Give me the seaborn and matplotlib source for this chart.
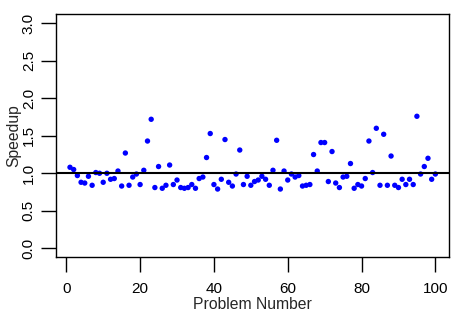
import numpy as np
import pandas as pd
import matplotlib
matplotlib.use("Agg")
import matplotlib.pyplot as plt
import seaborn as sns

# speedup per problem
problem = list(range(1, 101))
speedup = [
    1.08, 1.05, 0.97, 0.88, 0.87, 0.96, 0.84, 1.01, 1.00, 0.88,
    1.00, 0.92, 0.93, 1.03, 0.83, 1.27, 0.84, 0.95, 0.99, 0.85,
    1.04, 1.43, 1.72, 0.81, 1.09, 0.80, 0.84, 1.11, 0.85, 0.91,
    0.81, 0.80, 0.81, 0.85, 0.80, 0.93, 0.95, 1.21, 1.53, 0.85,
    0.79, 0.92, 1.45, 0.88, 0.83, 0.99, 1.31, 0.85, 0.96, 0.84,
    0.89, 0.91, 0.96, 0.92, 0.84, 1.04, 1.44, 0.79, 1.03, 0.91,
    0.99, 0.95, 0.97, 0.83, 0.84, 0.85, 1.25, 1.03, 1.41, 1.41,
    0.89, 1.29, 0.87, 0.81, 0.95, 0.96, 1.13, 0.80, 0.85, 0.83,
    0.93, 1.43, 1.01, 1.60, 0.84, 1.52, 0.84, 1.23, 0.84, 0.81,
    0.92, 0.85, 0.92, 0.85, 1.76, 0.99, 1.09, 1.20, 0.92, 0.99,
]
x_ticks = [0, 20, 40, 60, 80, 100]
y_ticks = [0.0, 0.5, 1.0, 1.5, 2.0, 2.5, 3.0]

df = pd.DataFrame({"problem": problem, "speedup": speedup})

sns.set_style("white")
plt.rcParams['font.family'] = ['Liberation Sans', 'DejaVu Sans']

fig = plt.figure(figsize=(4.64, 3.22), dpi=100)
ax = fig.add_axes([0.1207, 0.2019, 0.847, 0.7547])

sns.scatterplot(data=df, x="problem", y="speedup", color="#0000FF",
                s=15, edgecolor="none", ax=ax)
ax.axhline(1.0, color="black", lw=1.5)

ax.set_xlim(-2.79, 103.7)
ax.set_ylim(-0.116, 3.124)
ax.set_xticks(x_ticks)
ax.set_yticks(y_ticks)
ax.set_xticklabels([str(t) for t in x_ticks])
ax.set_yticklabels([f"{t:.1f}" for t in y_ticks])

for sp in ax.spines.values():
    sp.set_color("black")
    sp.set_linewidth(1.0)

ax.tick_params(axis="both", direction="out", length=11, width=1.0,
               color="black", labelsize=11, labelcolor="black",
               bottom=True, left=True)
ax.tick_params(axis="x", pad=7)
ax.tick_params(axis="y", pad=3.5)
plt.setp(ax.get_yticklabels(), rotation=90, va="center")

ax.set_xlabel("Problem Number", fontsize=11.3, labelpad=0.5)
ax.set_ylabel("Speedup", fontsize=11.3, labelpad=0.5)

fig.savefig("out.png", dpi=100)
